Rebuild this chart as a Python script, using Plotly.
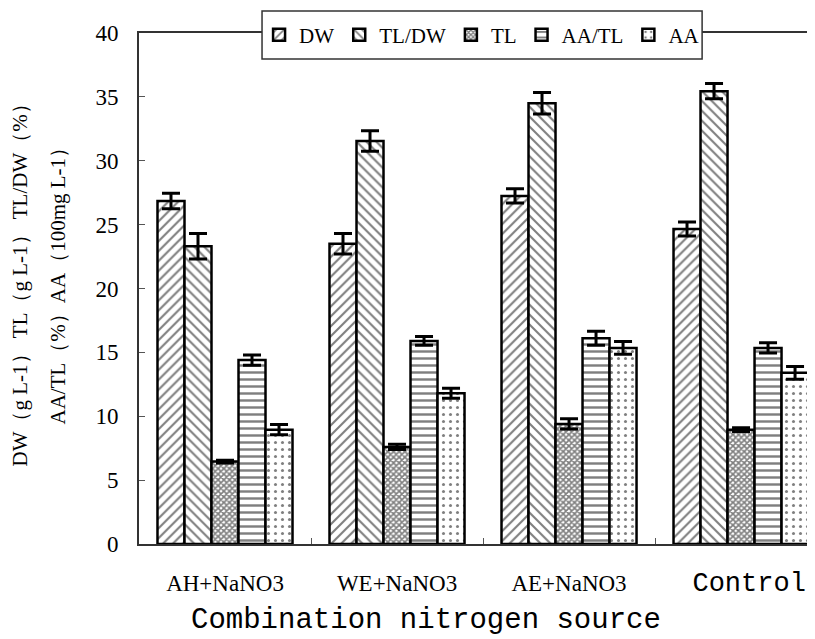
import plotly.graph_objects as go

categories = ["AH+NaNO3", "WE+NaNO3", "AE+NaNO3", "Control"]
tick_labels = ["AH+NaNO3", "WE+NaNO3", "AE+NaNO3",
               '<span style="font-family:Liberation Mono;font-size:27px">\u00a0Control</span>']
series_names = ["DW", "TL/DW", "TL", "AA/TL", "AA"]

dw = [26.85, 23.5, 27.25, 24.65]
dw_err = [0.6, 0.8, 0.55, 0.55]
tl_dw = [23.3, 31.55, 34.5, 35.45]
tl_dw_err = [1.0, 0.8, 0.85, 0.6]
tl = [6.45, 7.6, 9.4, 8.95]
tl_err = [0.1, 0.2, 0.4, 0.15]
aa_tl = [14.4, 15.9, 16.1, 15.35]
aa_tl_err = [0.4, 0.35, 0.55, 0.4]
aa = [8.95, 11.8, 15.35, 13.4]
aa_err = [0.4, 0.4, 0.5, 0.5]

y_ticks = [0, 5, 10, 15, 20, 25, 30, 35, 40]
y_title_1 = "DW（g L-1） TL（g L-1） TL/DW（%）"
y_title_2 = "AA/TL（%）AA（100mg L-1）"
x_title = "Combination nitrogen source"

values = [dw, tl_dw, tl, aa_tl, aa]
errors = [dw_err, tl_dw_err, tl_err, aa_tl_err, aa_err]
patterns = [
    dict(shape="/", size=7, solidity=0.3),
    dict(shape="\\", size=7, solidity=0.3),
    dict(shape="x", size=4, solidity=0.65),
    dict(shape="-", size=7, solidity=0.35),
    dict(shape=".", size=7, solidity=0.15),
]

fig = go.Figure()
for name, v, e, p in zip(series_names, values, errors, patterns):
    fig.add_trace(go.Bar(
        name=name, x=categories, y=v,
        marker=dict(color="white", line=dict(color="black", width=2.5),
                    pattern=dict(fgcolor="black", bgcolor="white", **p)),
        error_y=dict(type="data", array=e, color="black", thickness=3, width=9),
    ))

serif = "Liberation Serif"
mono = "Liberation Mono"

fig.update_layout(
    width=807, height=631,
    margin=dict(l=131, r=0, t=25, b=95, autoexpand=False),
    paper_bgcolor="white", plot_bgcolor="white",
    barmode="group", bargap=0.215, bargroupgap=0,
    showlegend=True,
    legend=dict(orientation="h", x=0.5075, xanchor="center", y=0.996, yanchor="middle",
                bgcolor="rgba(0,0,0,0)", borderwidth=0,
                font=dict(family=serif, size=21, color="black"),
                itemwidth=30, tracegroupgap=0),
    font=dict(family=serif, color="black"),
    shapes=[
        dict(type="rect", xref="paper", yref="paper", x0=0.182, x1=0.833,
             y0=0.949, y1=1.043, fillcolor="white",
             line=dict(color="#333", width=1.5), layer="above"),
    ],
    xaxis=dict(
        range=[-0.5, 3.43], tickmode="array", tickvals=categories, ticktext=tick_labels,
        ticks="inside", tickson="boundaries", ticklen=6, tickcolor="#555",
        showline=True, linecolor="#333", linewidth=2, mirror=True,
        showgrid=False, zeroline=False, automargin=False,
        tickfont=dict(family=serif, size=23, color="black"),
        ticklabelstandoff=17,
    ),
    yaxis=dict(
        range=[0, 40], tickvals=y_ticks,
        ticks="inside", ticklen=6, tickcolor="#555",
        showline=True, linecolor="#333", linewidth=2,
        showgrid=False, zeroline=False, automargin=False,
        tickfont=dict(family=serif, size=23, color="black"),
        ticklabelstandoff=14,
    ),
    annotations=[
        dict(text=y_title_1, textangle=-90,
             xref="paper", yref="paper", x=0, y=0.5, xanchor="center", yanchor="middle",
             xshift=-120, yshift=8, showarrow=False,
             font=dict(family=serif, size=21, color="black")),
        dict(text=y_title_2, textangle=-90,
             xref="paper", yref="paper", x=0, y=0.5, xanchor="center", yanchor="middle",
             xshift=-82, yshift=8, showarrow=False,
             font=dict(family=serif, size=21, color="black")),
        dict(text=x_title, xref="paper", yref="paper", x=0.4245, y=-0.15,
             xanchor="center", yanchor="middle", showarrow=False,
             font=dict(family=mono, size=29, color="black")),
    ],
)

fig.write_html("out.html")
